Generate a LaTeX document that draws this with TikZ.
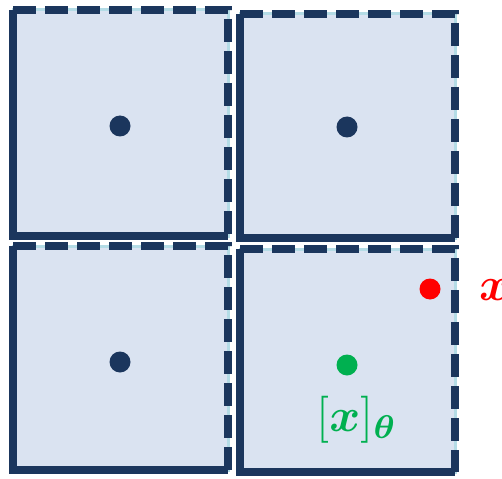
\documentclass[tikz,border=0pt]{standalone}
\usepackage{amsmath}
\usepackage{amssymb}
\usetikzlibrary{positioning}
\definecolor{navy}{HTML}{1B365D}
\definecolor{cellfill}{HTML}{DAE3F1}
\definecolor{celledge}{HTML}{B4DCE6}
\definecolor{pgreen}{HTML}{00B050}
\newcommand{\bigmath}[1]{\scalebox{4.7}{$#1$}}
\tikzset{
  cellbox/.style={fill=cellfill, draw=celledge, line width=3pt},
  solidedge/.style={navy, line width=8pt},
  dashedge/.style={navy, line width=8pt, dash pattern=on 23pt off 9pt},
  centre/.style={circle, fill=#1, inner sep=0pt, minimum size=21pt},
  biglabel/.style={inner sep=0pt},
}

\begin{document}
\begin{tikzpicture}[x=1pt,y=-1pt]
    \useasboundingbox (0,0) rectangle (502,478);
    \clip (0,0) rectangle (502,478);
    % four cells: left, top, right, bottom
    \foreach \l/\t/\r/\b in {13/10/228/236, 240/14/455/238, 13/246/228/470, 240/249/455/472} {
        \draw[cellbox] (\l,\t) rectangle (\r,\b);
        \draw[solidedge] (\l,\t) -- (\l,\b) -- (\r,\b);
        \draw[dashedge] (\l,\t) -- (\r,\t) -- (\r,\b);
    }
    \node[centre=navy] (ca) at (120,126) {};
    \node[centre=navy] (cb) at (347,127) {};
    \node[centre=navy] (cc) at (120,362) {};
    \node[centre=pgreen] (cd) at (347,365) {};
    \node[centre=red] (pt) at (430,289) {};
    \node[biglabel, text=red, anchor=base west] (ptlab) at (479,300) {\bigmath{\boldsymbol{x}}};
    \node[biglabel, text=pgreen, anchor=base west] (cdlab) at (316,431) {\bigmath{[\boldsymbol{x}]_{\boldsymbol{\theta}}}};
\end{tikzpicture}
\end{document}
